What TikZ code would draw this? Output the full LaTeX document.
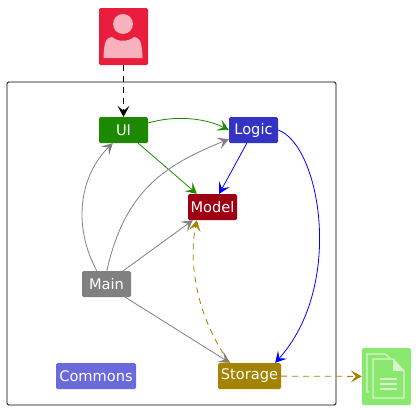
\documentclass[tikz,border=0pt]{standalone}
\usepackage{fontspec}
\setmainfont{DejaVu Sans}
\usetikzlibrary{arrows.meta, calc, positioning}
\definecolor{colUser}{HTML}{E91E3D}
\definecolor{colUserIcon}{HTML}{F8B2BD}
\definecolor{colUi}{HTML}{1D8900}
\definecolor{colLogic}{HTML}{3333C4}
\definecolor{colModel}{HTML}{9D0012}
\definecolor{colStorage}{HTML}{A38300}
\definecolor{colMain}{HTML}{808080}
\definecolor{colCommons}{HTML}{6A6ADC}
\definecolor{colFile}{HTML}{8AE86F}
\definecolor{colFileIcon}{HTML}{D6F7CC}
\tikzset{
  comp/.style={rounded corners=1.5pt, minimum height=26pt, inner sep=0pt, text=white, font=\fontsize{14.6}{16}\selectfont},
  flow/.style={-{Stealth[length=11pt,width=12pt,inset=5pt]}, line width=0.8pt},
  dashflow/.style={flow, dash pattern=on 6pt off 5pt},
  icon/.style={rounded corners=1.5pt, inner sep=0pt},
}
\begin{document}
\begin{tikzpicture}[x=1pt,y=-1pt]
  \useasboundingbox (0,0) rectangle (416,410);
  \draw[rounded corners=1.5pt, line width=0.8pt] (7,82) rectangle (336,405);
  % components
  \node[icon, fill=colUser, minimum width=49pt, minimum height=57pt] (user) at (123.5,36.5) {};
  \node[comp, fill=colUi, minimum width=49pt] (ui) at (123.5,130) {UI};
  \node[comp, fill=colLogic, minimum width=49pt] (logic) at (253.5,130) {Logic};
  \node[comp, fill=colModel, minimum width=49pt] (model) at (212.5,207) {Model};
  \node[comp, fill=colMain, minimum width=49pt] (main) at (106.5,284) {Main};
  \node[comp, fill=colCommons, minimum width=80pt] (commons) at (96,376) {Commons};
  \node[comp, fill=colStorage, minimum width=63pt] (storage) at (249.5,376) {Storage};
  \node[icon, fill=colFile, minimum width=49pt, minimum height=57pt] (file) at (386.5,376.5) {};
  % user icon
  \fill[colUserIcon] (123,24) circle (10);
  \fill[colUserIcon] (103.5,58) .. controls (104,44) and (105,38) .. (112,37) .. controls (118,42) and (128,42) .. (134,37) .. controls (141,38) and (142,44) .. (142.5,58) -- cycle;
  % file icon
  \draw[colFileIcon, line width=1.3pt] (369,392) -- (367,392) -- (367,354) -- (385,354) -- (390,358);
  \draw[colFileIcon, line width=1.3pt, line join=round] (373,359) -- (393,359) -- (404,371) -- (404,398) -- (373,398) -- cycle;
  \fill[colFileIcon] (393,359) -- (404,371) -- (393,371) -- cycle;
  \draw[colFileIcon, line width=1.3pt] (380,379) -- (397,379) (380,384) -- (397,384) (380,389) -- (397,389);
  % connectors
  \draw[dashflow, black] (user) -- (ui);
  \draw[flow, colUi] ($(ui.east)+(0,-7)$) .. controls (175,115) and (205,118) .. (logic.west);
  \draw[flow, colUi] ($(ui.south east)+(-10,0)$) -- ($(model.north west)+(9,0)$);
  \draw[flow, blue] ($(logic.south west)+(18,0)$) -- ($(model.north east)+(-18,0)$);
  \draw[flow, blue] (logic.east) .. controls (320,145) and (345,285) .. ($(storage.north east)+(-6,0)$);
  \draw[flow, colMain] ($(main.north west)+(15,0)$) .. controls (72,225) and (80,175) .. ($(ui.south west)+(14,0)$);
  \draw[flow, colMain] ($(main.north west)+(25,0)$) .. controls (125,190) and (165,165) .. ($(logic.south west)+(0,-4)$);
  \draw[flow, colMain] ($(main.north east)+(-8,0)$) -- ($(model.south west)+(5,0)$);
  \draw[flow, colMain] ($(main.south east)+(-6,0)$) -- ($(storage.north west)+(12,0)$);
  \draw[dashflow, colStorage] ($(storage.north west)+(12,0)$) .. controls (205,330) and (186,275) .. ($(model.south west)+(9,0)$);
  \draw[dashflow, colStorage] (storage) -- (file);
\end{tikzpicture}
\end{document}
